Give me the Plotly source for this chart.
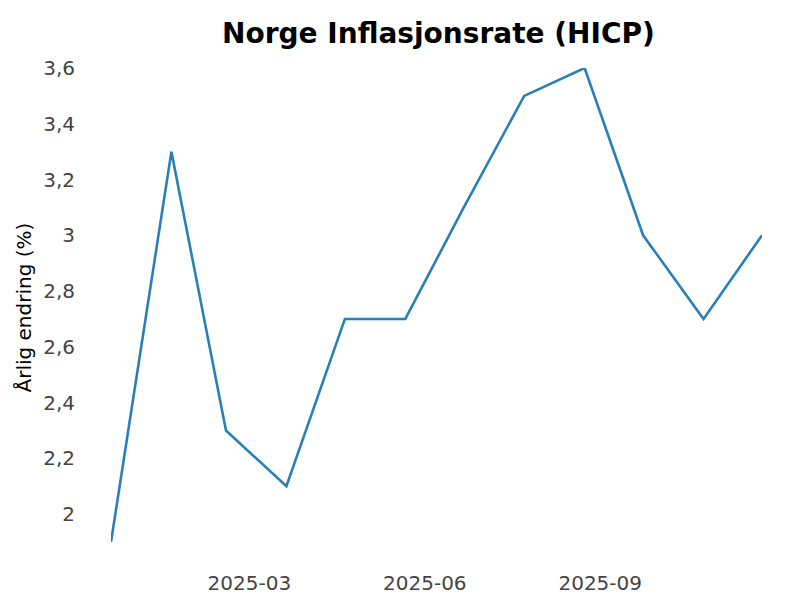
import plotly.graph_objects as go

# Data (month-end observations)
dates = ["2024-12-31", "2025-01-31", "2025-02-28", "2025-03-31", "2025-04-30",
         "2025-05-31", "2025-06-30", "2025-07-31", "2025-08-31", "2025-09-30",
         "2025-10-31", "2025-11-30"]
inflation = [1.9, 3.3, 2.3, 2.1, 2.7, 2.7, 3.1, 3.5, 3.6, 3.0, 2.7, 3.0]

x_tickvals = ["2025-03-12", "2025-06-10", "2025-09-08"]
x_ticktext = ["2025-03", "2025-06", "2025-09"]

y_title = "Årlig endring (%)"
FONT = "DejaVu Sans"

fig = go.Figure()
fig.add_trace(go.Scatter(
    x=dates, y=inflation, mode="lines",
    line=dict(color="#2980b9", width=2.6),
    showlegend=False,
))

fig.add_annotation(
    text=y_title, textangle=-90,
    xref="paper", yref="paper", x=0, y=0.5,
    xanchor="center", yanchor="middle",
    xshift=-87.5, yshift=-3, showarrow=False,
    font=dict(family=FONT, size=20, color="black"),
)

fig.update_layout(
    width=800, height=600,
    margin=dict(l=103, r=46, t=60, b=66, autoexpand=False),
    paper_bgcolor="white", plot_bgcolor="white",
    separators=", ",
    font=dict(family=FONT, size=20, color="#444"),
    title=dict(
        text="<b>Norge Inflasjonsrate (HICP)</b>",
        font=dict(family=FONT, size=28, color="black"),
        x=0.503, xref="paper", xanchor="center",
        y=1 - 25 / 600, yref="container", yanchor="middle",
        automargin=False,
    ),
    xaxis=dict(
        type="date", automargin=False,
        showgrid=False, zeroline=False, showline=False,
        tickvals=x_tickvals, ticktext=x_ticktext,
        ticks="outside", ticklen=23, tickcolor="rgba(0,0,0,0)",
        tickfont=dict(family=FONT, size=20, color="#444"),
    ),
    yaxis=dict(
        automargin=False,
        range=[min(inflation), max(inflation)],
        showgrid=False, zeroline=False, showline=False,
        dtick=0.2, tick0=0,
        ticks="outside", ticklen=31, tickcolor="rgba(0,0,0,0)",
        tickfont=dict(family=FONT, size=20, color="#444"),
    ),
)

fig.write_html("out.html")
